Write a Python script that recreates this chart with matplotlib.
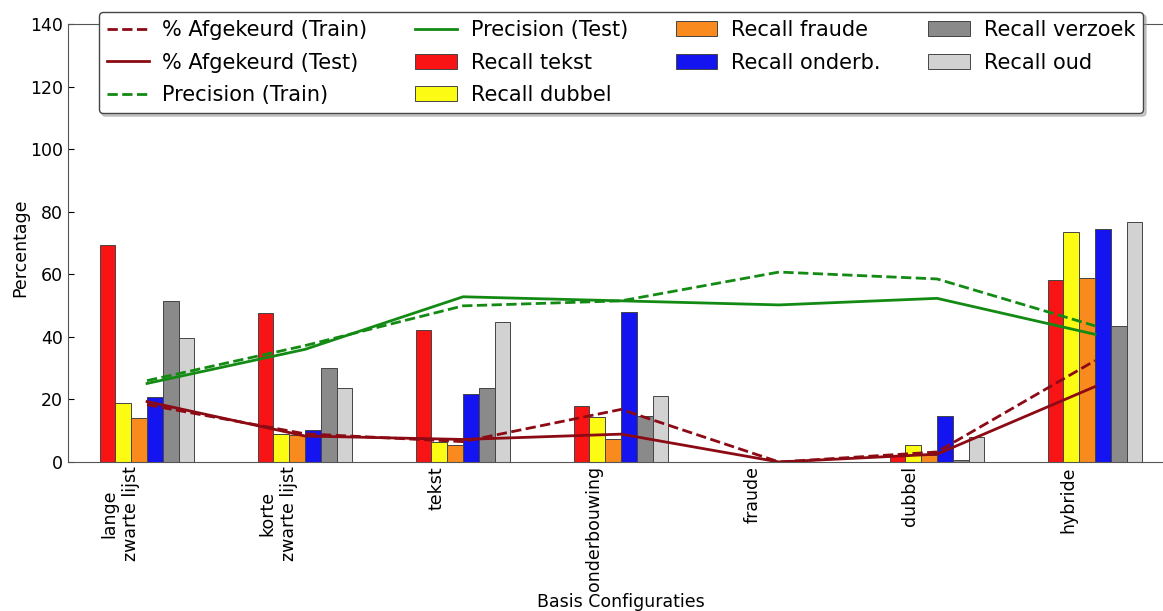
import numpy as np
import matplotlib
matplotlib.use("Agg")
import matplotlib.pyplot as plt

configs = ["lange\nzwarte lijst", "korte\nzwarte lijst", "tekst", "onderbouwing",
           "fraude", "dubbel", "hybride"]

recall_tekst = [69.5, 47.5, 42.2, 18.0, 0.0, 2.2, 58.2]
recall_dubbel = [19.0, 9.0, 6.3, 14.5, 0.0, 5.4, 73.4]
recall_fraude = [14.0, 8.5, 5.4, 7.3, 0.0, 2.3, 58.7]
recall_onderb = [20.9, 10.2, 21.6, 47.8, 0.0, 14.7, 74.4]
recall_verzoek = [51.4, 30.1, 23.5, 14.7, 0.0, 0.6, 43.5]
recall_oud = [39.5, 23.6, 44.8, 21.1, 0.0, 7.9, 76.6]

afgekeurd_train = [18.3, 9.0, 6.5, 16.8, 0.0, 3.2, 32.4]
afgekeurd_test = [19.3, 8.3, 7.2, 8.9, 0.0, 2.5, 24.1]
precision_train = [26.0, 37.2, 49.9, 51.5, 60.7, 58.5, 43.5]
precision_test = [25.1, 36.0, 52.8, 51.5, 50.2, 52.3, 40.8]

ind = np.arange(len(configs))
width = 0.1

fig = plt.figure(figsize=(11.63, 6.11), dpi=100)
ax = fig.add_axes([0.0585, 0.2439, 0.951, 0.7169])

red_line = "#8b0a14"
green_line = "#138a13"

l1, = ax.plot(ind + 3 * width, afgekeurd_train, "--", color=red_line, lw=2,
              label="% Afgekeurd (Train)")
l2, = ax.plot(ind + 3 * width, afgekeurd_test, "-", color=red_line, lw=2,
              label="% Afgekeurd (Test)")
l3, = ax.plot(ind + 3 * width, precision_train, "--", color=green_line, lw=2,
              label="Precision (Train)")
l4, = ax.plot(ind + 3 * width, precision_test, "-", color=green_line, lw=2,
              label="Precision (Test)")

series = [
    (recall_tekst, "#f81414", "Recall tekst"),
    (recall_dubbel, "#fbfb14", "Recall dubbel"),
    (recall_fraude, "#f88a1e", "Recall fraude"),
    (recall_onderb, "#1414f0", "Recall onderb."),
    (recall_verzoek, "#8a8a8a", "Recall verzoek"),
    (recall_oud, "#d2d2d2", "Recall oud"),
]
bars = []
for k, (vals, col, lab) in enumerate(series):
    b = ax.bar(ind + k * width, vals, width, align="edge", color=col,
               edgecolor="#444444", linewidth=0.7, label=lab, zorder=1)
    bars.append(b)

ax.set_xlim(-0.2, 6.8)
ax.set_ylim(0, 140)
ax.set_yticks(np.arange(0, 141, 20))
ax.set_xticks(ind + 0.13)
ax.set_xticklabels(configs, rotation=90, fontsize=12.5)
ax.tick_params(axis="y", labelsize=12.5, direction="in", length=4)
ax.tick_params(axis="x", length=0, pad=3)
for s in ax.spines.values():
    s.set_color("#555555")

ax.set_xlabel("Basis Configuraties", fontsize=12.5, va="center")
ax.xaxis.set_label_coords(0.5, -0.3196)
ax.set_ylabel("Percentage", fontsize=12.5, va="center")
ax.yaxis.set_label_coords(-0.0434, 0.49)

handles = [l1, l2, l3, l4] + bars
labels = [h.get_label() for h in handles]
leg = ax.legend(handles, labels, ncol=4, loc="upper center",
                bbox_to_anchor=(0.5, 1.028), borderaxespad=0, fontsize=15,
                labelspacing=0.6, columnspacing=2.3, handletextpad=0.65,
                handlelength=2.0, fancybox=True, shadow={"color": "#999999"},
                framealpha=1)
leg.get_frame().set_edgecolor("#444444")

fig.savefig("out.png", dpi=100)
